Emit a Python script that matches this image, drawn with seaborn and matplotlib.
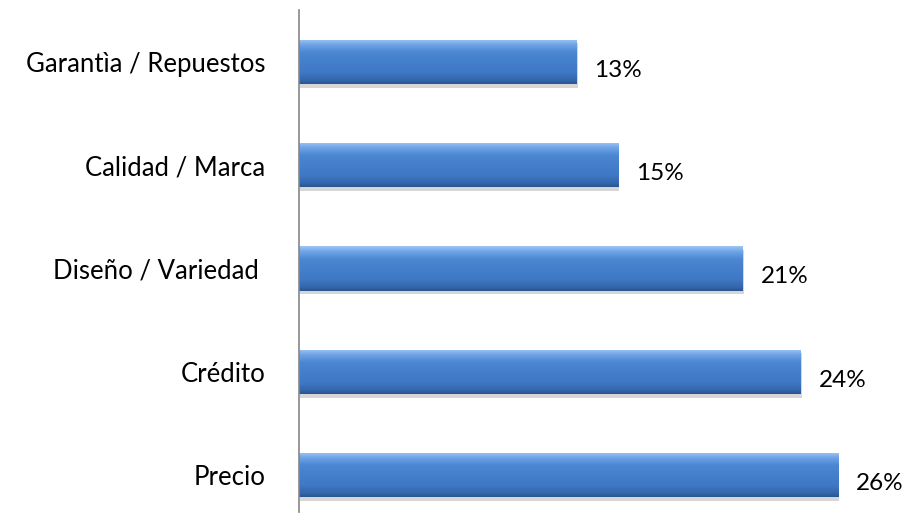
import matplotlib.pyplot as plt
import matplotlib.colors as mcolors
import numpy as np
import pandas as pd
import seaborn as sns
from matplotlib.patches import Rectangle

# Data (top to bottom)
categories = ['Garantìa / Repuestos', 'Calidad / Marca', 'Diseño / Variedad ', 'Crédito', 'Precio']
values = [13.4, 15.4, 21.4, 24.2, 26.0]

df = pd.DataFrame({'factor': categories, 'pct': values})

sns.set_style('white')
plt.rcParams['font.family'] = ['Lato', 'DejaVu Sans']

fig = plt.figure(figsize=(9.13, 5.22), dpi=100)
ax = fig.add_axes([0.327, 0.019, 0.653, 0.962])

sns.barplot(data=df, y='factor', x='pct', orient='h', color='#4580CC',
            width=0.43, ax=ax, edgecolor='none')

# Excel-like vertical gradient (light top, dark bottom) + soft shadow
grad = mcolors.LinearSegmentedColormap.from_list(
    'bar', [(0.0, '#9CC4F3'), (0.12, '#6EA3E6'), (0.3, '#4A86D2'),
            (0.75, '#3F78C4'), (0.92, '#3466AC'), (1.0, '#2A5690')])
for p in ax.patches:
    x0, y0 = p.get_x(), p.get_y()
    w, h = p.get_width(), p.get_height()
    shadow = Rectangle((x0 + 0.06, y0 + 0.035), w, h, color='#8C8C8C',
                       alpha=0.35, zorder=p.get_zorder() - 0.1, lw=0)
    ax.add_patch(shadow)
    img = np.linspace(0, 1, 64).reshape(-1, 1)
    im = ax.imshow(img, cmap=grad, aspect='auto',
                   extent=(x0, x0 + w, y0 + h, y0), origin='upper',
                   zorder=p.get_zorder() + 0.1)
    im.set_clip_path(p)

labels = ax.bar_label(ax.containers[0], labels=[f'{v:.0f}%' for v in values],
                      padding=13, fontsize=17.5, color='#000000')
# value labels sit a little below the bar centre in the original
for t in labels:
    t.xyann = (13, -6)

ax.set_xlim(0, 28.75)
ax.set_ylim(4.36, -0.505)
ax.set_xlabel('')
ax.set_ylabel('')
ax.set_xticks([])
ax.tick_params(axis='y', length=0, pad=24, labelsize=18.5, labelcolor='#000000')

for s in ['top', 'right', 'bottom']:
    ax.spines[s].set_visible(False)
ax.spines['left'].set_color('#868686')
ax.spines['left'].set_linewidth(1.2)

fig.savefig('out.png', dpi=100)
